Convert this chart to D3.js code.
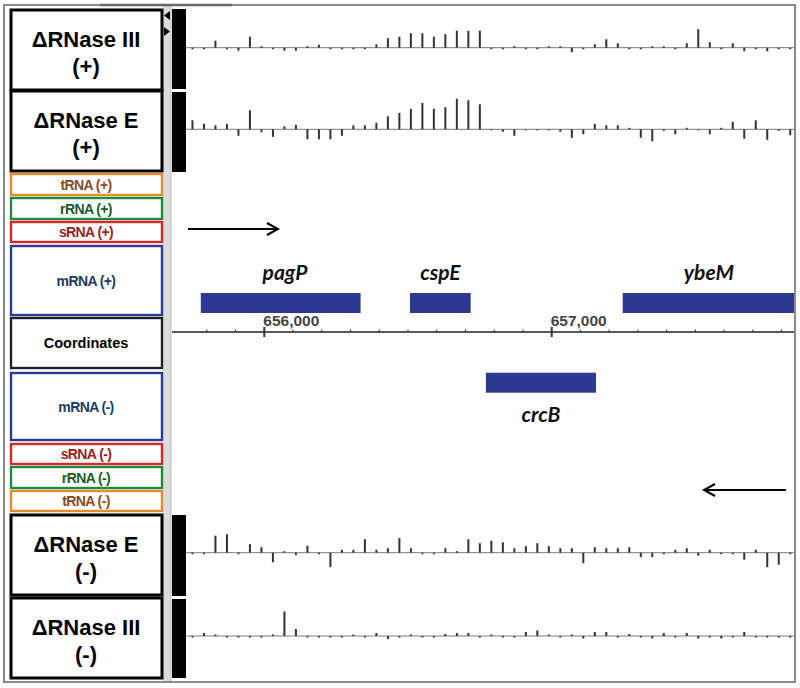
<!DOCTYPE html>
<html>
<head>
<meta charset="utf-8">
<script src="https://cdn.jsdelivr.net/npm/d3@7"></script>
<style>
  body { margin: 0; background: #fff; }
  svg { display: block; }
</style>
</head>
<body>
<svg id="chart" width="800" height="688"></svg>
<script>
// track names shown in the left legend, top to bottom
var rowLabels = ["ΔRNase III|(+)", "ΔRNase E|(+)", "tRNA (+)", "rRNA (+)", "sRNA (+)", "mRNA (+)",
  "Coordinates", "mRNA (-)", "sRNA (-)", "rRNA (-)", "tRNA (-)", "ΔRNase E|(-)", "ΔRNase III|(-)"];
var rowKinds = ["seq", "seq", "tRNA", "rRNA", "sRNA", "mRNA", "coord", "mRNA", "sRNA", "rRNA", "tRNA", "seq", "seq"];

// read-count bins (40 bp each, starting at 655,750)
var binStart = 655750, binSize = 40;
var rnase3Plus = [-1.5, -1.5, 7, -1.5, -3, 11, 1.5, -1.5, -3, -3, 1.5, 3, -1.5, -1.5, -1.5, -1.5, 3.5, 9.5, 11, 14.5,
  14.5, 11, 13.5, 17, 17, 17, -1.5, -1.5, 1.5, -1.5, -1.5, 1.5, 1.5, -4.5, -1.5, 3.5, 8.5, 4.5, -1.5, -1.5,
  1.5, 1.5, -1.5, 4.5, 18.5, 5.5, -1.5, 4.5, -3.5, -1.5, -3.5, -1.5, -1.5];
var rnaseEPlus = [9, 5.5, 4, 5.5, -6.5, 19, -3, -7.5, 3, 4.5, -10, -10, -10, -6.5, 4, 4, 6.5, 13, 16.5, 20.5,
  26.5, 20.5, 22, 30.5, 29, 25, -1, -2.5, -6.5, -1, -1, -1, -2.5, -8.5, -5, 5.5, 4, 4, 1.5, -8.5,
  -12, -1.5, -5, 1.5, -1, -5, 1.5, 7.5, -9.5, 9, -10.5, -1.5, -6];
var rnaseEMinus = [-1.5, -1.5, 17, 18.5, -1.5, 8.5, 5.5, -9.5, 1.5, -2.5, 7, -1.5, -14.5, 3, 3, 13.5, 3, 4.5, 14.5, 4.5,
  -1.5, -1.5, 4.5, 1.5, 13.5, 9.5, 12, 10.5, 4.5, 6.5, 9.5, 6.5, 4.5, 4.5, -10.5, 5.5, 4.5, 4.5, 5.5, -4.5,
  -4.5, -1.5, 3, 4.5, -3, 3, -1.5, -1.5, -7, 3, -14.5, -12, -1.5];
var rnase3Minus = [-1.5, 3, 1.5, -1.5, -1.5, -1.5, -1.5, 1.5, 24.5, 7, -1.5, -1.5, -1.5, -1.5, 1.5, -1.5, 3, -3, -1.5, 1.5,
  -1.5, -1.5, 2, 3, 3, -1.5, 1.5, -1.5, -1.5, 4, 5.5, 1.5, -1.5, 1.5, -2.5, 4, 4, -1.5, 2, -1.5,
  -2.5, 3, -1.5, 3, -2.5, -1.5, -2.5, -1.5, 4, -1.5, -1.5, -1.5, -1.5];

// genes (bp)
var geneNames = ["pagP", "cspE", "ybeM", "crcB"];
var geneStart = [655779, 656507, 657247, 656771];
var geneEnd = [656335, 656718, 657950, 657154];
var geneStrand = ["+", "+", "+", "-"];

var axisTicks = d3.range(655800, 657900, 100);
var axisLabels = [656000, 657000];

var svg = d3.select("#chart");
var W = 800, H = 688;
var trackLeft = 172, trackRight = 795;

// row layout of the left panel (pixels)
var rowTop = [10, 91, 174, 198, 222, 246, 318, 373, 444, 467, 491, 515, 598];
var rowBot = [90, 171, 195, 219, 242, 315, 368, 440, 464, 488, 511, 595, 678];
var rowStroke = {seq: "#000", coord: "#222", mRNA: "#2b3a99", sRNA: "#d8262b", rRNA: "#1f8a3c", tRNA: "#e88b2a"};
var rowText = {seq: "#000", coord: "#000", mRNA: "#1d3a66", sRNA: "#9a1c1c", rRNA: "#1b5a28", tRNA: "#8a4a1f"};

var x = d3.scaleLinear().domain([656000, 657000]).range([264.3, 551.7]);

// frame
svg.append("rect").attr("x", 0).attr("y", 0).attr("width", W).attr("height", H).attr("fill", "#fff");
svg.append("rect").attr("x", 163).attr("y", 6).attr("width", 8).attr("height", 675).attr("fill", "#dcdcdc");
svg.append("line").attr("x1", 171).attr("x2", 171).attr("y1", 6).attr("y2", 681).attr("stroke", "#bbb");

// left legend boxes
var rows = svg.append("g").selectAll("g").data(rowLabels).enter().append("g");
rows.append("rect")
  .attr("x", 11).attr("width", 151)
  .attr("y", (d, i) => rowTop[i])
  .attr("height", (d, i) => rowBot[i] - rowTop[i])
  .attr("fill", "#fff")
  .attr("stroke", (d, i) => rowStroke[rowKinds[i]])
  .attr("stroke-width", (d, i) => rowKinds[i] == "seq" ? 3 : 2.4);

rows.each(function (d, i) {
  var g = d3.select(this);
  var cy = (rowTop[i] + rowBot[i]) / 2;
  var k = rowKinds[i];
  if (k == "seq") {
    var parts = d.split("|");
    g.append("text").attr("x", 86).attr("y", cy - 3).attr("text-anchor", "middle")
      .attr("font-family", "Liberation Sans, Arial, sans-serif").attr("font-weight", "bold")
      .attr("font-size", 22).attr("fill", "#000").text(parts[0]);
    g.append("text").attr("x", 86).attr("y", cy + 24).attr("text-anchor", "middle")
      .attr("font-family", "Liberation Sans, Arial, sans-serif").attr("font-weight", "bold")
      .attr("font-size", 22).attr("fill", "#000").text(parts[1]);
  } else {
    g.append("text").attr("x", 86).attr("y", cy + 5).attr("text-anchor", "middle")
      .attr("font-family", "Liberation Sans, Arial, sans-serif").attr("font-weight", "bold")
      .attr("font-size", k == "coord" ? 14.5 : 14).attr("letter-spacing", k == "coord" ? 0 : -0.6)
      .attr("fill", rowText[k]).text(d);
  }
});

// little scroll arrows
svg.append("path").attr("d", "M170,11 L164,15.5 L170,20 Z").attr("fill", "#000");
svg.append("path").attr("d", "M164,27 L170,31.5 L164,36 Z").attr("fill", "#000");

// read tracks
var tracks = [
  {vals: rnase3Plus, base: 47.7, top: 9, bot: 89},
  {vals: rnaseEPlus, base: 129.3, top: 92, bot: 172},
  {vals: rnaseEMinus, base: 552.7, top: 515, bot: 596},
  {vals: rnase3Minus, base: 636, top: 599, bot: 678}
];
tracks.forEach(function (t) {
  var y = d3.scaleLinear().domain([-30, 30]).range([t.base + 30, t.base - 30]);
  svg.append("rect").attr("x", 172).attr("y", t.top).attr("width", 14).attr("height", t.bot - t.top).attr("fill", "#000");
  svg.append("line").attr("x1", 186).attr("x2", trackRight).attr("y1", t.base).attr("y2", t.base)
    .attr("stroke", "#7a7a7a").attr("stroke-width", 1);
  svg.append("g").selectAll("rect").data(t.vals).enter().append("rect")
    .attr("x", (d, i) => x(binStart + i * binSize) - 1)
    .attr("width", 2)
    .attr("y", d => Math.min(y(d), y(0)))
    .attr("height", d => Math.abs(y(d) - y(0)))
    .attr("fill", "#333");
});

// strand arrows
function arrow(x1, x2, yy) {
  var dir = x2 > x1 ? 1 : -1;
  svg.append("path")
    .attr("d", `M${x1},${yy} L${x2},${yy} M${x2 - dir * 11},${yy - 6} L${x2},${yy} L${x2 - dir * 11},${yy + 6}`)
    .attr("fill", "none").attr("stroke", "#000").attr("stroke-width", 2);
}
arrow(188, 278, 229);
arrow(786, 704, 490);

// genes
svg.append("clipPath").attr("id", "trk").append("rect")
  .attr("x", trackLeft).attr("y", 0).attr("width", trackRight - trackLeft).attr("height", H);
var genes = svg.append("g").attr("clip-path", "url(#trk)");
geneNames.forEach(function (name, i) {
  var plus = geneStrand[i] == "+";
  var y0 = plus ? 293 : 372.7;
  genes.append("rect").attr("x", x(geneStart[i])).attr("y", y0)
    .attr("width", x(geneEnd[i]) - x(geneStart[i])).attr("height", 20)
    .attr("fill", "#2b3990");
  var cx = (x(geneStart[i]) + Math.min(x(geneEnd[i]), trackRight)) / 2;
  if (name == "pagP") cx = 285;
  svg.append("text").attr("x", cx).attr("y", plus ? 280 : 421.5)
    .attr("text-anchor", "middle").attr("font-family", "Lato, Open Sans, sans-serif")
    .attr("font-style", "italic").attr("font-weight", "bold").attr("font-size", 21)
    .attr("fill", "#111").text(name);
});

// coordinate axis
var axisY = 332;
svg.append("line").attr("x1", trackLeft).attr("x2", trackRight).attr("y1", axisY).attr("y2", axisY)
  .attr("stroke", "#222").attr("stroke-width", 1.5);
svg.append("g").selectAll("line").data(axisTicks).enter().append("line")
  .attr("x1", d => x(d)).attr("x2", d => x(d))
  .attr("y1", d => axisLabels.includes(d) ? axisY - 5 : axisY - 2.5)
  .attr("y2", d => axisLabels.includes(d) ? axisY + 5 : axisY)
  .attr("stroke", "#333").attr("stroke-width", d => axisLabels.includes(d) ? 2 : 1);
svg.append("g").selectAll("text").data(axisLabels).enter().append("text")
  .attr("x", d => x(d) - 1).attr("y", 326)
  .attr("font-family", "Liberation Sans, Arial, sans-serif").attr("font-weight", "bold")
  .attr("font-size", 15.5).attr("fill", "#444")
  .text(d => d3.format(",")(d));

// outer border
svg.append("rect").attr("x", 4).attr("y", 5).attr("width", 791).attr("height", 677)
  .attr("fill", "none").attr("stroke", "#8a8a8a").attr("stroke-width", 2);
svg.append("line").attr("x1", 100).attr("x2", 232).attr("y1", 5).attr("y2", 5)
  .attr("stroke", "#666").attr("stroke-width", 2.5);
</script>
</body>
</html>
